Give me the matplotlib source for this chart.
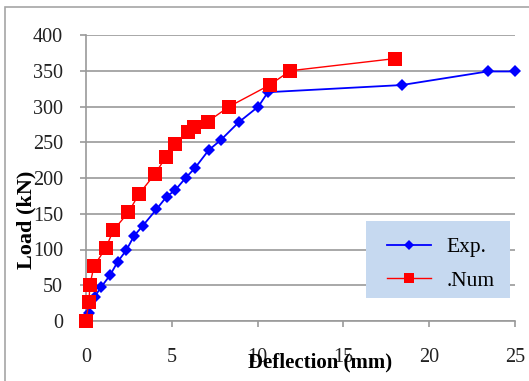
import matplotlib
matplotlib.use("Agg")
import matplotlib.pyplot as plt
from matplotlib.patches import Rectangle

# Data
exp_x = [0, 0.15, 0.5, 0.9, 1.4, 1.85, 2.35, 2.8, 3.3, 4.1, 4.7, 5.2, 5.8, 6.35,
         7.15, 7.85, 8.9, 10.05, 10.6, 18.4, 23.4, 25.0]
exp_y = [0, 11, 34, 48, 64, 83, 99, 119, 133, 156, 174, 183, 200, 214,
         239, 253, 278, 300, 320, 330, 349, 349]
num_x = [0, 0.17, 0.23, 0.47, 1.15, 1.6, 2.47, 3.1, 4.0, 4.65, 5.2, 5.95, 6.3,
         7.1, 8.35, 10.7, 11.9, 18.0]
num_y = [0, 27, 51, 77, 102, 127, 152, 178, 205, 229, 248, 264, 271,
         279, 300, 330, 350, 367]
x_ticks = [0, 5, 10, 15, 20, 25]
y_ticks = [0, 50, 100, 150, 200, 250, 300, 350, 400]

W, H = 529, 381
fig = plt.figure(figsize=(W / 100, H / 100), dpi=100)
serif = "Liberation Serif"

# outer chart border
fig.patches.append(Rectangle((5 / W, -0.1), 1.2, 1 - 7 / H + 0.1,
                             transform=fig.transFigure, fill=False,
                             edgecolor="#a6a6a6", linewidth=1.2))

ax = fig.add_axes([86 / W, 1 - 321 / H, (515 - 86) / W, (321 - 35) / H])
ax.set_xlim(0, 25)
ax.set_ylim(0, 400)
ax.set_xticks(x_ticks)
ax.set_yticks(y_ticks)

grid_c = "#9a9a9a"
ax.yaxis.grid(True, color=grid_c, linewidth=1.2)
ax.set_axisbelow(True)
for s in ["top", "right"]:
    ax.spines[s].set_visible(False)
for s in ["left", "bottom"]:
    ax.spines[s].set_color(grid_c)
    ax.spines[s].set_linewidth(1.2)
ax.tick_params(axis="y", length=4.5, width=1.2, color=grid_c, pad=12,
               labelsize=14.5, labelcolor="#222222")
ax.tick_params(axis="x", length=4.5, width=1.2, color=grid_c, pad=15,
               labelsize=14.5, labelcolor="#222222")
for lab in ax.get_xticklabels() + ax.get_yticklabels():
    lab.set_fontfamily(serif)

ax.plot(exp_x, exp_y, color="#0000ff", linewidth=1.3, marker="D",
        markersize=5.8, markeredgewidth=0, label="Exp.", clip_on=False, zorder=3)
ax.plot(num_x, num_y, color="#ff0000", linewidth=1.0, marker="s",
        markersize=9.5, markeredgewidth=0, label=".Num", clip_on=False, zorder=4)

# legend background box
bg = Rectangle((366 / W, 1 - 298 / H), (510 - 366) / W, (298 - 221) / H,
               transform=fig.transFigure, facecolor="#c6d9f0",
               edgecolor="none", zorder=5, clip_on=False)
ax.add_patch(bg)
leg = ax.legend(loc="center", bbox_to_anchor=(441 / W, 1 - 264 / H),
                bbox_transform=fig.transFigure,
                prop={"family": serif, "size": 15.5}, frameon=False,
                handlelength=2.05, handletextpad=0.7,
                borderpad=0, labelspacing=0.62, borderaxespad=0,
                markerscale=0.8)
leg.set_zorder(6)

fig.text(320 / W, 1 - 362 / H, "Deflection (mm)", ha="center", va="center",
         fontfamily=serif, fontweight="bold", fontsize=15)
fig.text(26 / W, 1 - 220 / H, "Load (kN)", ha="center", va="center",
         rotation=90, fontfamily=serif, fontweight="bold", fontsize=16)

fig.savefig("out.png", dpi=100)
